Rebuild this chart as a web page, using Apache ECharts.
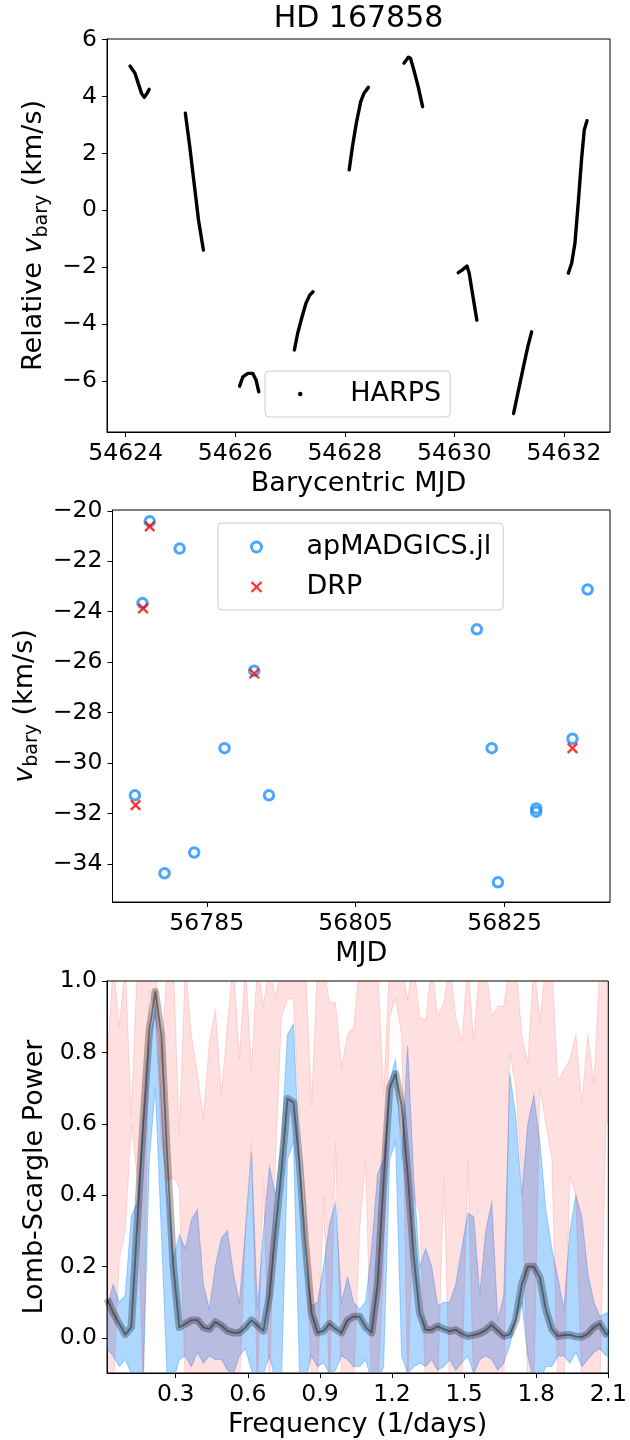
<!DOCTYPE html>
<html><head><meta charset="utf-8">
<script src="https://cdn.jsdelivr.net/npm/echarts@6/dist/echarts.min.js"></script>
<style>html,body{margin:0;padding:0;background:#fff}#c{width:630px;height:1440px}</style>
</head><body><div id="c"></div>
<script>
// ---------- Panel 1: HARPS relative barycentric RV ----------
const harpsSeg1 = [[54624.08,5.07],[54624.17,4.82],[54624.23,4.46],[54624.29,4.11],[54624.34,3.97],[54624.39,4.11],[54624.43,4.25]];
const harpsSeg2 = [[54625.09,3.41],[54625.17,2.24],[54625.25,0.95],[54625.33,-0.34],[54625.42,-1.40]];
const harpsSeg3 = [[54626.08,-6.18],[54626.14,-5.85],[54626.23,-5.73],[54626.32,-5.73],[54626.38,-5.96],[54626.43,-6.38]];
const harpsSeg4 = [[54627.08,-4.91],[54627.14,-4.32],[54627.22,-3.74],[54627.29,-3.27],[54627.36,-2.98],[54627.42,-2.86]];
const harpsSeg5 = [[54628.08,1.42],[54628.14,2.24],[54628.21,3.06],[54628.29,3.82],[54628.35,4.11],[54628.43,4.32]];
const harpsSeg6 = [[54629.08,5.17],[54629.16,5.38],[54629.20,5.34],[54629.26,4.93],[54629.34,4.34],[54629.42,3.64]];
const harpsSeg7 = [[54630.07,-2.19],[54630.14,-2.10],[54630.23,-1.96],[54630.27,-2.21],[54630.33,-2.92],[54630.41,-3.86]];
const harpsSeg8 = [[54631.08,-7.14],[54631.17,-6.32],[54631.26,-5.50],[54631.34,-4.79],[54631.41,-4.27]];
const harpsSeg9 = [[54632.08,-2.21],[54632.14,-1.86],[54632.20,-1.16],[54632.26,0.25],[54632.32,1.77],[54632.37,2.82],[54632.42,3.15]];
const harpsSegments = [harpsSeg1,harpsSeg2,harpsSeg3,harpsSeg4,harpsSeg5,harpsSeg6,harpsSeg7,harpsSeg8,harpsSeg9];
const topXTicks = [54624,54626,54628,54630,54632];
const topYTicks = [-6,-4,-2,0,2,4,6];

// ---------- Panel 2: APOGEE visits ----------
const apMjd = [56775.35,56776.37,56777.34,56779.33,56781.36,56783.31,56787.39,56791.37,56793.36,56821.28,56823.27,56824.11,56829.25,56829.25,56834.12,56836.15];
const apV   = [-31.28,-23.66,-20.42,-34.37,-21.50,-33.55,-29.41,-26.34,-31.28,-24.70,-29.41,-34.73,-31.80,-31.93,-29.04,-23.12];
const drpMjd = [56775.44,56776.45,56777.34,56791.37,56834.12];
const drpV   = [-31.67,-23.87,-20.62,-26.45,-29.41];
const midXTicks = [56785,56805,56825];
const midYTicks = [-34,-32,-30,-28,-26,-24,-22,-20];

// ---------- Panel 3: Lomb-Scargle periodograms ----------
const freq = [0.015,0.04,0.065,0.09,0.115,0.14,0.165,0.19,0.215,0.24,0.265,0.29,0.315,0.34,0.365,0.39,0.415,0.44,0.465,0.49,0.515,0.54,0.565,0.59,0.615,0.64,0.665,0.69,0.715,0.74,0.765,0.79,0.815,0.84,0.865,0.89,0.915,0.94,0.965,0.99,1.015,1.04,1.065,1.09,1.115,1.14,1.165,1.19,1.215,1.24,1.265,1.29,1.315,1.34,1.365,1.39,1.415,1.44,1.465,1.49,1.515,1.54,1.565,1.59,1.615,1.64,1.665,1.69,1.715,1.74,1.765,1.79,1.815,1.84,1.865,1.89,1.915,1.94,1.965,1.99,2.015,2.04,2.065,2.09,2.1];
const harpsPower = [0.11,0.07,0.04,0.01,0.03,0.32,0.61,0.86,0.97,0.85,0.50,0.20,0.03,0.04,0.05,0.05,0.03,0.025,0.045,0.035,0.02,0.015,0.015,0.03,0.05,0.035,0.02,0.12,0.30,0.47,0.67,0.66,0.49,0.26,0.07,0.015,0.02,0.04,0.025,0.015,0.05,0.06,0.06,0.03,0.015,0.15,0.44,0.70,0.74,0.65,0.46,0.23,0.07,0.023,0.023,0.033,0.025,0.019,0.023,0.012,0.005,0.008,0.013,0.022,0.037,0.02,0.005,0.01,0.05,0.15,0.20,0.20,0.17,0.08,0.025,0.005,0.008,0.009,0.004,0.003,0.012,0.03,0.04,0.012,0.009];
const madHi = [0.09,0.15,0.10,0.12,0.34,0.38,0.60,0.82,0.93,0.65,0.40,0.22,0.29,0.25,0.33,0.36,0.15,0.08,0.20,0.28,0.30,0.18,0.10,0.30,0.52,0.08,0.30,0.48,0.40,0.55,0.85,0.88,0.50,0.20,0.09,0.10,0.20,0.32,0.38,0.10,0.17,0.10,0.08,0.10,0.25,0.46,0.50,0.72,0.78,0.50,0.82,0.45,0.20,0.25,0.20,0.09,0.10,0.10,0.15,0.25,0.35,0.34,0.12,0.30,0.38,0.05,0.12,0.74,0.62,0.40,0.60,0.68,0.55,0.36,0.25,0.17,0.08,0.30,0.40,0.34,0.18,0.10,0.06,0.07,0.07];
const madLo = [-0.03,-0.05,-0.08,-0.06,-0.10,-0.12,-0.12,0.50,0.70,0.30,-0.12,-0.12,-0.06,-0.05,-0.08,-0.04,-0.07,-0.05,-0.06,-0.06,-0.09,-0.10,-0.05,-0.03,-0.09,-0.12,-0.10,-0.05,-0.12,-0.12,0.50,0.55,-0.10,-0.12,-0.05,-0.08,-0.07,-0.10,-0.09,-0.05,-0.06,-0.08,-0.08,-0.06,-0.12,-0.12,-0.08,0.50,0.55,-0.05,-0.10,-0.08,-0.07,-0.08,-0.06,-0.09,-0.08,-0.06,-0.09,-0.07,-0.05,-0.10,-0.06,-0.05,-0.06,-0.09,-0.07,-0.02,0.05,0.10,-0.05,-0.12,-0.12,-0.08,-0.08,-0.05,-0.05,-0.07,-0.04,-0.08,-0.06,-0.04,-0.03,-0.05,-0.05];
const drpHi = [0.78,1.05,0.87,1.05,0.62,1.05,1.05,1.05,1.05,0.78,1.05,1.05,0.57,1.05,0.85,0.74,0.62,0.83,0.92,0.68,0.88,1.05,0.78,1.05,0.75,1.05,0.93,1.05,0.95,1.05,1.05,1.05,1.05,1.05,0.65,1.05,1.05,0.94,0.94,0.76,0.85,0.87,1.05,1.05,1.05,1.05,0.68,1.05,1.05,1.05,0.95,1.05,0.90,0.89,1.05,0.90,0.94,1.05,0.90,0.83,1.05,0.83,1.05,1.05,0.90,0.93,0.93,1.05,1.05,0.85,0.77,1.05,0.89,1.05,1.05,0.72,0.75,0.78,0.85,0.66,0.85,0.71,1.05,1.05,1.05];
const drpLo = [-0.15,-0.15,0.22,0.30,0.60,0.45,-0.15,0.97,0.92,0.55,0.44,0.45,0.42,-0.15,-0.15,-0.15,-0.15,-0.15,-0.15,-0.15,-0.15,-0.15,-0.15,0.30,0.55,-0.15,0.45,-0.15,0.50,0.90,0.95,0.95,0.60,0.35,-0.15,-0.15,0.40,-0.15,0.55,-0.15,-0.15,-0.15,0.30,0.50,-0.15,-0.15,0.20,0.90,0.95,0.85,-0.15,0.40,0.35,-0.15,-0.15,-0.15,0.45,-0.15,-0.15,-0.15,0.50,-0.15,-0.15,-0.15,-0.15,-0.15,-0.15,0.80,0.70,0.45,-0.15,-0.15,0.70,0.60,0.50,-0.15,-0.15,0.45,0.40,-0.15,-0.15,-0.15,-0.15,0.60,0.60];
const botXTicks = [0.3,0.6,0.9,1.2,1.5,1.8,2.1];
const botYTicks = [0.0,0.2,0.4,0.6,0.8,1.0];

// ---------- build chart ----------
const FONT = 'DejaVu Sans';
const TICK_FS = 23.5, NAME_FS = 27;
const minus = s => String(s).replace('-', '\u2212');
const GRIDS = [
  {left:107, top:39,  width:503, height:393},
  {left:107, top:510, width:503, height:392},
  {left:107, top:981, width:503, height:392}
];
function axisCommon(ticks, fmt) {
  return {
    axisLine:{show:true, onZero:false, lineStyle:{color:'#000', width:1}},
    axisTick:{show:true, inside:false, length:5, lineStyle:{color:'#000', width:1}, customValues:ticks},
    axisLabel:{show:true, margin:10, color:'#000', fontFamily:FONT, fontSize:TICK_FS, customValues:ticks, formatter:fmt},
    splitLine:{show:false}
  };
}
const nameStyle = {fontFamily:FONT, fontSize:NAME_FS, color:'#000'};
const yNameStyle = {
  fontFamily:FONT, fontSize:NAME_FS, color:'#000', lineHeight:34,
  rich:{
    n:{fontFamily:FONT, fontSize:NAME_FS, color:'#000', lineHeight:34},
    i:{fontFamily:FONT, fontSize:NAME_FS, fontStyle:'italic', color:'#000', lineHeight:34},
    s:{fontFamily:FONT, fontSize:19, color:'#000', lineHeight:20, verticalAlign:'bottom'}
  }
};
const xAxes = [
  Object.assign({type:'value', gridIndex:0, min:54623.66, max:54632.84, name:'Barycentric MJD', nameLocation:'middle', nameGap:38, nameTextStyle:nameStyle}, axisCommon(topXTicks, v=>String(v))),
  Object.assign({type:'value', gridIndex:1, min:56772.34, max:56839.16, name:'MJD', nameLocation:'middle', nameGap:38, nameTextStyle:nameStyle}, axisCommon(midXTicks, v=>String(v))),
  Object.assign({type:'value', gridIndex:2, min:0.014, max:2.1, name:'Frequency (1/days)', nameLocation:'middle', nameGap:38, nameTextStyle:nameStyle}, axisCommon(botXTicks, v=>v.toFixed(1)))
];
const yAxes = [
  Object.assign({type:'value', gridIndex:0, min:-7.79, max:6.02, name:'{n|Relative }{i|v}{s|bary}{n| (km/s)}', nameLocation:'middle', nameRotate:90, nameGap:53, nameTextStyle:yNameStyle}, axisCommon(topYTicks, v=>minus(v))),
  Object.assign({type:'value', gridIndex:1, min:-35.51, max:-19.97, name:'{i|v}{s|bary}{n| (km/s)}', nameLocation:'middle', nameRotate:90, nameGap:53, nameTextStyle:yNameStyle}, axisCommon(midYTicks, v=>minus(v))),
  Object.assign({type:'value', gridIndex:2, min:-0.098, max:1.0, name:'Lomb-Scargle Power', nameLocation:'middle', nameRotate:90, nameGap:53, nameTextStyle:nameStyle}, axisCommon(botYTicks, v=>minus(v.toFixed(1))))
];

const series = [];
harpsSegments.forEach(seg => {
  series.push({type:'line', name:'HARPS', xAxisIndex:0, yAxisIndex:0, data:seg, symbol:'none', smooth:false,
    lineStyle:{color:'#000', width:3.4, cap:'round', join:'round'}, itemStyle:{color:'#000'}, z:3});
});
series.push({type:'scatter', name:'apMADGICS.jl', xAxisIndex:1, yAxisIndex:1,
  data: apMjd.map((m,i)=>[m, apV[i]]), symbol:'circle', symbolSize:9.5,
  itemStyle:{color:'rgba(255,255,255,0)', borderColor:'#1E90FF', borderWidth:3}, z:3});
const XPATH = 'path://M0,0L10,10M10,0L0,10';
series.push({type:'scatter', name:'DRP', xAxisIndex:1, yAxisIndex:1,
  data: drpMjd.map((m,i)=>[m, drpV[i]]), symbol:XPATH, symbolSize:9.5,
  itemStyle:{color:'none', borderColor:'#ff0000', borderWidth:2.3}, z:4});

// periodograms
const harpsPts = freq.map((f,i)=>[f, harpsPower[i]]);
series.push({type:'line', name:'HARPS band', xAxisIndex:2, yAxisIndex:2, data:harpsPts, symbol:'none',
  lineStyle:{color:'rgba(0,0,0,0.28)', width:7.5, join:'round'}, z:2});
series.push({type:'line', name:'HARPS power', xAxisIndex:2, yAxisIndex:2, data:harpsPts, symbol:'none',
  lineStyle:{color:'rgba(0,0,0,0.4)', width:1.8, join:'round'}, z:2});
function band(name, lo, hi, fill, z) {
  return {type:'custom', name, xAxisIndex:2, yAxisIndex:2, z, clip:true, silent:true,
    data:[[freq[0], lo[0]]],
    renderItem:(params, api) => {
      const pts = [];
      for (let i=0;i<freq.length;i++) pts.push(api.coord([freq[i], hi[i]]));
      for (let i=freq.length-1;i>=0;i--) pts.push(api.coord([freq[i], lo[i]]));
      const cs = params.coordSys;
      return {type:'group',
        clipPath:{type:'rect', shape:{x:cs.x, y:cs.y, width:cs.width, height:cs.height}},
        children:[{type:'polygon', shape:{points:pts}, style:{fill:fill, stroke:fill, lineWidth:1.1}}]};
    }};
}
series.push(band('apMADGICS band', madLo, madHi, 'rgba(30,144,255,0.36)', 2));
series.push(band('DRP band', drpLo, drpHi, 'rgba(255,0,0,0.12)', 2));

const chart = echarts.init(document.getElementById('c'), null, {renderer:'canvas', width:630, height:1440});
chart.setOption({
  animation:false,
  backgroundColor:'#fff',
  title:{text:'HD 167858', left:358.5, top:4, textAlign:'center', padding:0,
    textStyle:{fontFamily:FONT, fontSize:30, fontWeight:'normal', color:'#000'}},
  grid: GRIDS.map(g => Object.assign({show:true, borderColor:'#000', borderWidth:1, backgroundColor:'transparent', containLabel:false}, g)),
  xAxis: xAxes,
  yAxis: yAxes,
  legend:[
    {left:265, top:371, orient:'horizontal', padding:[7,9,7,33], itemWidth:10, itemHeight:4.5,
     backgroundColor:'rgba(255,255,255,0.8)', borderColor:'#cccccc', borderWidth:1, borderRadius:4,
     selectedMode:false,
     textStyle:{fontFamily:FONT, fontSize:27, color:'#000', lineHeight:32, padding:[0,0,0,40]},
     data:[{name:'HARPS', icon:'circle', itemStyle:{color:'#000', borderWidth:0}}]},
    {left:218, top:523, orient:'vertical', padding:[8,12,7,31], itemWidth:12, itemHeight:10, itemGap:8,
     backgroundColor:'rgba(255,255,255,0.8)', borderColor:'#cccccc', borderWidth:1, borderRadius:4,
     selectedMode:false,
     textStyle:{fontFamily:FONT, fontSize:27, color:'#000', lineHeight:32, padding:[0,0,0,39]},
     data:[
       {name:'apMADGICS.jl', icon:'circle', itemStyle:{color:'#fff', borderColor:'#1E90FF', borderWidth:3}},
       {name:'DRP', icon:XPATH, itemStyle:{color:'none', borderColor:'#ff0000', borderWidth:2.3}}
     ]}
  ],
  series: series
});
</script>
</body></html>
